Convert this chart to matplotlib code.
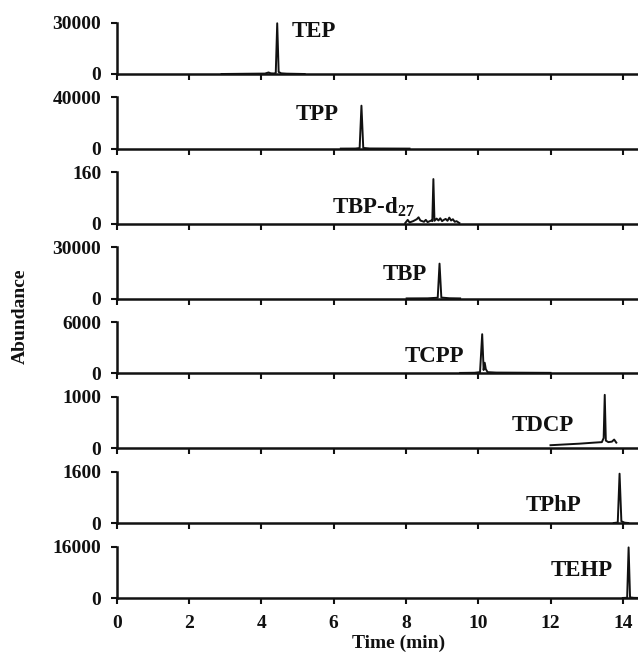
import matplotlib
matplotlib.use("Agg")
import matplotlib.pyplot as plt

plt.rcParams["font.family"] = ["Liberation Serif", "DejaVu Serif"]
plt.rcParams["font.weight"] = "bold"
plt.rcParams["mathtext.fontset"] = "custom"
plt.rcParams["mathtext.rm"] = "Liberation Serif:bold"
plt.rcParams["mathtext.bf"] = "Liberation Serif:bold"
plt.rcParams["mathtext.default"] = "rm"

# --- data (time in min, abundance) ---
names = ["TEP", "TPP", "TBP-d$_{27}$", "TBP", "TCPP", "TDCP", "TPhP", "TEHP"]
y_max = [30000, 40000, 160, 30000, 6000, 1000, 1600, 16000]

tep_t = [2.9, 3.6, 4.1, 4.2, 4.26, 4.35, 4.40, 4.44, 4.48, 4.55, 4.7, 5.2]
tep_y = [0, 150, 250, 900, 400, 300, 600, 29600, 1200, 400, 200, 0]

tpp_t = [6.2, 6.6, 6.72, 6.77, 6.82, 7.0, 8.1]
tpp_y = [200, 250, 600, 33600, 700, 300, 200]

tbpd_t = [7.98, 8.05, 8.1, 8.2, 8.3, 8.35, 8.4, 8.5, 8.55, 8.6, 8.7, 8.73, 8.76,
          8.79, 8.85, 8.9, 8.95, 9.0, 9.05, 9.1, 9.15, 9.2, 9.25, 9.3, 9.35, 9.4, 9.48]
tbpd_y = [2, 12, 4, 8, 14, 20, 10, 6, 12, 5, 10, 8, 139,
          9, 16, 10, 17, 8, 12, 15, 9, 19, 10, 14, 6, 8, 2]

tbp_t = [8.02, 8.6, 8.88, 8.93, 8.98, 9.2, 9.5]
tbp_y = [100, 150, 500, 20400, 600, 200, 100]

tcpp_t = [9.5, 9.9, 10.05, 10.11, 10.15, 10.18, 10.21, 10.26, 10.5, 11.0, 11.5, 12.0]
tcpp_y = [60, 80, 150, 4580, 400, 1250, 500, 150, 100, 90, 80, 70]

tdcp_t = [12.0, 12.4, 12.8, 13.2, 13.42, 13.47, 13.5, 13.53, 13.6, 13.7, 13.76, 13.82]
tdcp_y = [60, 75, 90, 110, 120, 200, 1040, 150, 120, 130, 170, 110]

tphp_t = [13.75, 13.86, 13.91, 13.96, 14.05, 14.15]
tphp_y = [5, 20, 1540, 60, 15, 5]

tehp_t = [14.0, 14.12, 14.16, 14.2, 14.3, 14.42]
tehp_y = [20, 80, 15750, 200, 60, 30]

traces = [(tep_t, tep_y), (tpp_t, tpp_y), (tbpd_t, tbpd_y), (tbp_t, tbp_y),
          (tcpp_t, tcpp_y), (tdcp_t, tdcp_y), (tphp_t, tphp_y), (tehp_t, tehp_y)]

# label anchor (left x, baseline y) in data units of each panel
label_x = [4.84, 4.96, 5.95, 7.36, 7.96, 10.93, 11.30, 11.99]
label_y = [21400, 22500, 31, 10700, 1360, 344, 382, 6840]

x_ticks = [0, 2, 4, 6, 8, 10, 12, 14]

# --- layout (pixels of a 638 x 652 figure) ---
W, H = 638, 652
fig = plt.figure(figsize=(W / 100, H / 100), dpi=100)
left_px = 116.7
panel_h = 51.4
step = 74.86
first_bottom = 74.0

for i, (t, y) in enumerate(traces):
    b_px = first_bottom + i * step
    ax = fig.add_axes([left_px / W, 1 - b_px / H, (W - left_px) / W, panel_h / H])
    ax.plot(t, y, color="#111111", lw=1.4, clip_on=False, zorder=3)
    ax.set_xlim(0, 14.42)
    ax.set_ylim(0, y_max[i])
    ax.set_yticks([0, y_max[i]])
    ax.set_yticklabels(["0", str(y_max[i])])
    ax.set_xticks(x_ticks)
    if i == len(traces) - 1:
        ax.set_xticklabels([str(v) for v in x_ticks])
    else:
        ax.set_xticklabels([])
    for s in ["top", "right"]:
        ax.spines[s].set_visible(False)
    for s in ["left", "bottom"]:
        ax.spines[s].set_linewidth(1.8)
        ax.spines[s].set_color("#111111")
    ax.tick_params(axis="both", direction="out", length=4, width=1.5,
                   color="#111111", labelsize=14, labelcolor="#111111")
    ax.tick_params(axis="y", pad=7)
    ax.tick_params(axis="x", pad=8)
    ax.text(label_x[i], label_y[i], names[i], fontsize=16.5, fontweight="bold",
            ha="left", va="baseline", color="#111111")
    ax.patch.set_alpha(0)

fig.text(20.7 / W, 1 - 316 / H, "Abundance", rotation=90, fontsize=14,
         fontweight="bold", ha="center", va="center", color="#111111")
fig.text(399 / W, 1 - 643 / H, "Time (min)", fontsize=14,
         fontweight="bold", ha="center", va="center", color="#111111")

fig.savefig("out.png", dpi=100)
